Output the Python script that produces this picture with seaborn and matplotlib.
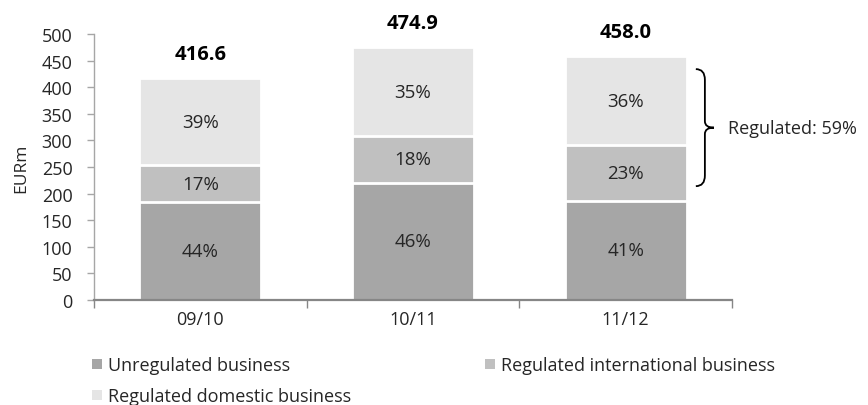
import numpy as np
import pandas as pd
import matplotlib
matplotlib.use("Agg")
import matplotlib.pyplot as plt
from matplotlib.path import Path
from matplotlib.patches import PathPatch
from matplotlib.lines import Line2D
import seaborn as sns

# Revenue split by business line, EURm
years = ["09/10", "10/11", "11/12"]
unregulated = [183.5, 220.4, 187.0]
regulated_international = [70.0, 87.4, 104.0]
regulated_domestic = [163.1, 167.1, 167.0]

series_names = ["Unregulated business", "Regulated international business",
                "Regulated domestic business"]
series_colors = ["#A6A6A6", "#C0C0C0", "#E5E5E5"]
y_ticks = [0, 50, 100, 150, 200, 250, 300, 350, 400, 450, 500]

sns.set_theme(style="white")
plt.rcParams["font.family"] = ["Open Sans", "DejaVu Sans"]
TEXT = "#262626"
FS = 13

series = [unregulated, regulated_international, regulated_domestic]
stack = np.cumsum(np.array(series), axis=0)
totals = stack[-1]

fig = plt.figure(figsize=(8.68, 4.06), dpi=100)
ax = fig.add_axes([94 / 868, 1 - 301 / 406, (732 - 94) / 868, (301 - 35) / 406])

# Stacked bars: draw cumulative heights from the top layer down
for i in range(len(series) - 1, -1, -1):
    df = pd.DataFrame({"year": years, "value": stack[i]})
    sns.barplot(data=df, x="year", y="value", order=years, color=series_colors[i],
                saturation=1, width=0.575, errorbar=None, edgecolor="white",
                linewidth=2, ax=ax)

# Segment share labels and bar totals
for j in range(len(years)):
    bottom = 0.0
    for i, vals in enumerate(series):
        pct = round(vals[j] / totals[j] * 100)
        ax.text(j, bottom + vals[j] / 2, f"{pct}%", ha="center", va="center",
                fontsize=13.5, color=TEXT)
        bottom += vals[j]
    ax.annotate(f"{totals[j]:.1f}", xy=(j, totals[j]), xytext=(0, 17.3),
                textcoords="offset points", ha="center", va="center",
                fontsize=14.5, fontweight="bold", color="black")

ax.set_xlim(-0.5, 2.5)
ax.set_ylim(0, 500)
ax.set_yticks(y_ticks)
ax.set_ylabel("EURm", fontsize=12.5, color=TEXT, labelpad=9)
ax.set_xlabel("")

for s in ["top", "right"]:
    ax.spines[s].set_visible(False)
ax.spines["left"].set_color("#A6A6A6")
ax.spines["left"].set_linewidth(1.0)
ax.spines["bottom"].set_color("#868686")
ax.spines["bottom"].set_linewidth(1.6)

ax.tick_params(axis="y", which="major", direction="out", length=5, width=1,
               color="#A6A6A6", labelsize=FS, labelcolor=TEXT, pad=10.5, left=True)
ax.tick_params(axis="x", which="major", length=0, labelsize=FS,
               labelcolor=TEXT, pad=7)
ax.set_xticks([-0.5, 0.5, 1.5, 2.5], minor=True)
ax.tick_params(axis="x", which="minor", direction="out", length=6, width=1,
               color="#868686", bottom=True)

# Curly brace over the regulated segments of the last bar
x0, x1 = 2.33, 2.415
yb, yt = 214, 434
ym = (yb + yt) / 2
xm = (x0 + x1) / 2
verts = [(x0, yt), (xm, yt), (xm, yt - 20),
         (xm, ym + 12), (xm, ym), (x1, ym),
         (xm, ym), (xm, ym - 12),
         (xm, yb + 20), (xm, yb), (x0, yb)]
codes = [Path.MOVETO, Path.CURVE3, Path.CURVE3,
         Path.LINETO, Path.CURVE3, Path.CURVE3,
         Path.CURVE3, Path.CURVE3,
         Path.LINETO, Path.CURVE3, Path.CURVE3]
ax.add_patch(PathPatch(Path(verts, codes), fill=False, lw=1.3, color="black",
                       clip_on=False))
regulated_share = round((regulated_international[-1] + regulated_domestic[-1])
                        / totals[-1] * 100)
ax.text(2.48, ym, f"Regulated: {regulated_share}%", ha="left", va="center",
        fontsize=FS, color=TEXT, clip_on=False)

# Legend: two columns, filled column by column
order = [0, 2, 1]
handles = [Line2D([0], [0], marker="s", linestyle="none", markersize=7,
                  markerfacecolor=series_colors[i], markeredgewidth=0)
           for i in order]
fig.legend(handles, [series_names[i] for i in order], ncol=2,
           loc="upper left", bbox_to_anchor=(92 / 868, 1 - 357 / 406),
           frameon=False, fontsize=FS, handlelength=0.6, handletextpad=0.3,
           columnspacing=7.4, labelspacing=0.72, borderpad=0, borderaxespad=0,
           labelcolor=TEXT)

fig.savefig("out.png", dpi=100)
